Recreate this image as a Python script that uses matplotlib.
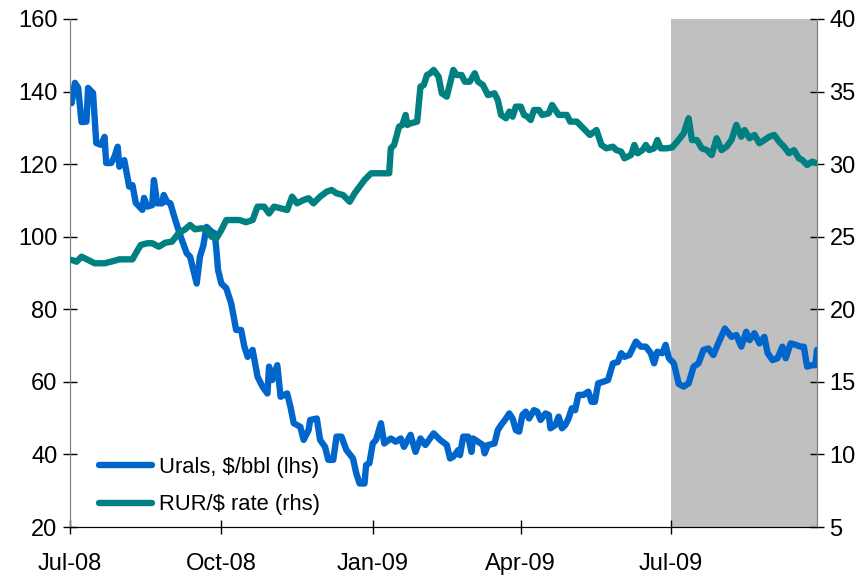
import pandas as pd
import matplotlib
matplotlib.use("Agg")
import matplotlib.pyplot as plt
import matplotlib.dates as mdates

plt.rcParams['font.family'] = ['Liberation Sans', 'DejaVu Sans']

# Urals oil price, $/bbl (left axis)
urals_dates = [
    '2008-07-02', '2008-07-04', '2008-07-06', '2008-07-08', '2008-07-11', '2008-07-12', '2008-07-15',
    '2008-07-17', '2008-07-20', '2008-07-22', '2008-07-23', '2008-07-26', '2008-07-28', '2008-07-30',
    '2008-07-31', '2008-08-03', '2008-08-06', '2008-08-08', '2008-08-10', '2008-08-14', '2008-08-15',
    '2008-08-17', '2008-08-20', '2008-08-21', '2008-08-23', '2008-08-26', '2008-08-27', '2008-08-29',
    '2008-08-31', '2008-09-03', '2008-09-05', '2008-09-07', '2008-09-10', '2008-09-12', '2008-09-14',
    '2008-09-16', '2008-09-18', '2008-09-20', '2008-09-22', '2008-09-25', '2008-09-27', '2008-09-28',
    '2008-09-29', '2008-10-01', '2008-10-04', '2008-10-07', '2008-10-10', '2008-10-13', '2008-10-15',
    '2008-10-17', '2008-10-20', '2008-10-23', '2008-10-26', '2008-10-29', '2008-10-30', '2008-11-01',
    '2008-11-04', '2008-11-06', '2008-11-10', '2008-11-12', '2008-11-14', '2008-11-18', '2008-11-20',
    '2008-11-23', '2008-11-24', '2008-11-28', '2008-11-30', '2008-12-03', '2008-12-05', '2008-12-08',
    '2008-12-10', '2008-12-13', '2008-12-16', '2008-12-20', '2008-12-22', '2008-12-24', '2008-12-27',
    '2008-12-28', '2008-12-30', '2009-01-01', '2009-01-03', '2009-01-06', '2009-01-08', '2009-01-12',
    '2009-01-15', '2009-01-18', '2009-01-20', '2009-01-24', '2009-01-27', '2009-01-30', '2009-02-02',
    '2009-02-07', '2009-02-11', '2009-02-15', '2009-02-17', '2009-02-19', '2009-02-22', '2009-02-23',
    '2009-02-25', '2009-02-28', '2009-03-02', '2009-03-03', '2009-03-06', '2009-03-09', '2009-03-10',
    '2009-03-12', '2009-03-16', '2009-03-18', '2009-03-20', '2009-03-23', '2009-03-25', '2009-03-27',
    '2009-03-29', '2009-03-31', '2009-04-02', '2009-04-04', '2009-04-06', '2009-04-09', '2009-04-11',
    '2009-04-13', '2009-04-16', '2009-04-18', '2009-04-19', '2009-04-22', '2009-04-24', '2009-04-26',
    '2009-04-28', '2009-04-30', '2009-05-02', '2009-05-04', '2009-05-06', '2009-05-09', '2009-05-12',
    '2009-05-14', '2009-05-16', '2009-05-18', '2009-05-21', '2009-05-24', '2009-05-27', '2009-05-30',
    '2009-06-01', '2009-06-03', '2009-06-06', '2009-06-10', '2009-06-13', '2009-06-16', '2009-06-19',
    '2009-06-21', '2009-06-23', '2009-06-26', '2009-06-28', '2009-06-30', '2009-07-03', '2009-07-06',
    '2009-07-09', '2009-07-12', '2009-07-15', '2009-07-18', '2009-07-21', '2009-07-24', '2009-07-27',
    '2009-07-30', '2009-08-03', '2009-08-07', '2009-08-10', '2009-08-13', '2009-08-16', '2009-08-18',
    '2009-08-21', '2009-08-24', '2009-08-27', '2009-08-29', '2009-09-01', '2009-09-04', '2009-09-07',
    '2009-09-09', '2009-09-12', '2009-09-15', '2009-09-18', '2009-09-20', '2009-09-22', '2009-09-25',
    '2009-09-27', '2009-09-28',
]
urals_price = [
    136.8, 142.4, 141.0, 131.6, 131.7, 141.0, 139.6,
    125.8, 125.3, 127.5, 120.3, 120.3, 122.0, 124.8,
    119.3, 121.1, 113.8, 114.2, 109.3, 107.4, 110.7,
    108.3, 108.7, 115.6, 109.2, 109.2, 111.5, 109.6,
    109.2, 104.6, 101.8, 99.1, 95.4, 94.5, 90.8,
    87.1, 94.5, 97.5, 102.7, 101.4, 100.9, 96.3,
    90.8, 87.1, 85.8, 81.6, 74.3, 74.3, 69.7,
    66.9, 68.8, 61.4, 58.7, 56.8, 64.2, 60.5,
    64.6, 55.9, 56.8, 53.1, 48.6, 47.6, 44.0,
    46.7, 49.5, 49.9, 44.0, 42.1, 38.5, 38.5,
    44.9, 44.9, 41.2, 38.9, 34.8, 32.0, 32.0,
    37.1, 37.6, 43.0, 44.0, 48.6, 43.0, 44.4,
    43.5, 44.4, 42.1, 45.4, 40.7, 44.4, 42.6,
    45.8, 44.0, 42.6, 38.9, 39.4, 41.2, 39.8,
    44.9, 44.9, 40.7, 44.4, 43.5, 42.6, 40.3,
    42.6, 43.0, 46.7, 48.1, 49.9, 51.3, 49.9,
    46.7, 46.3, 50.9, 51.8, 49.9, 52.2, 51.8,
    49.5, 51.3, 50.9, 47.2, 48.1, 50.4, 47.2,
    48.1, 49.9, 52.7, 52.2, 56.4, 56.4, 57.3,
    54.5, 54.5, 59.6, 60.0, 60.5, 65.1, 65.5,
    67.9, 66.9, 67.4, 71.1, 69.7, 69.7, 67.9,
    65.1, 68.3, 67.9, 70.2, 66.5, 65.1, 59.4,
    58.7, 59.6, 64.2, 65.1, 68.8, 69.2, 67.4,
    70.6, 74.7, 72.4, 72.9, 69.7, 73.8, 71.5,
    73.4, 70.6, 72.4, 67.9, 66.0, 66.5, 69.7,
    66.5, 70.6, 70.2, 69.7, 69.7, 64.2, 64.6,
    64.6, 68.8,
]

# RUR per USD (right axis)
rur_dates = [
    '2008-07-02', '2008-07-05', '2008-07-08', '2008-07-12', '2008-07-16', '2008-07-22', '2008-07-26',
    '2008-07-31', '2008-08-08', '2008-08-10', '2008-08-13', '2008-08-17', '2008-08-20', '2008-08-24',
    '2008-08-28', '2008-09-01', '2008-09-05', '2008-09-09', '2008-09-12', '2008-09-15', '2008-09-19',
    '2008-09-22', '2008-09-25', '2008-09-28', '2008-10-01', '2008-10-04', '2008-10-08', '2008-10-12',
    '2008-10-16', '2008-10-20', '2008-10-23', '2008-10-27', '2008-10-30', '2008-11-02', '2008-11-06',
    '2008-11-10', '2008-11-13', '2008-11-16', '2008-11-20', '2008-11-23', '2008-11-26', '2008-11-30',
    '2008-12-04', '2008-12-07', '2008-12-10', '2008-12-14', '2008-12-18', '2008-12-21', '2008-12-24',
    '2008-12-27', '2008-12-31', '2009-01-11', '2009-01-12', '2009-01-14', '2009-01-17', '2009-01-19',
    '2009-01-21', '2009-01-22', '2009-01-24', '2009-01-28', '2009-01-30', '2009-02-01', '2009-02-03',
    '2009-02-05', '2009-02-07', '2009-02-10', '2009-02-12', '2009-02-15', '2009-02-17', '2009-02-19',
    '2009-02-21', '2009-02-24', '2009-02-26', '2009-03-01', '2009-03-04', '2009-03-06', '2009-03-09',
    '2009-03-12', '2009-03-16', '2009-03-18', '2009-03-20', '2009-03-23', '2009-03-25', '2009-03-27',
    '2009-03-29', '2009-04-01', '2009-04-03', '2009-04-05', '2009-04-07', '2009-04-09', '2009-04-12',
    '2009-04-14', '2009-04-18', '2009-04-20', '2009-04-22', '2009-04-24', '2009-04-29', '2009-05-01',
    '2009-05-05', '2009-05-08', '2009-05-11', '2009-05-13', '2009-05-17', '2009-05-20', '2009-05-23',
    '2009-05-27', '2009-05-29', '2009-06-01', '2009-06-03', '2009-06-07', '2009-06-09', '2009-06-11',
    '2009-06-14', '2009-06-16', '2009-06-18', '2009-06-21', '2009-06-23', '2009-06-25', '2009-06-29',
    '2009-07-02', '2009-07-05', '2009-07-09', '2009-07-12', '2009-07-14', '2009-07-17', '2009-07-20',
    '2009-07-23', '2009-07-26', '2009-07-29', '2009-08-01', '2009-08-04', '2009-08-07', '2009-08-10',
    '2009-08-13', '2009-08-15', '2009-08-18', '2009-08-21', '2009-08-24', '2009-08-27', '2009-08-30',
    '2009-09-02', '2009-09-05', '2009-09-08', '2009-09-11', '2009-09-14', '2009-09-17', '2009-09-19',
    '2009-09-22', '2009-09-25', '2009-09-28',
]
rur_rate = [
    23.40, 23.28, 23.62, 23.40, 23.17, 23.17, 23.28,
    23.44, 23.44, 23.86, 24.43, 24.55, 24.55, 24.31,
    24.59, 24.66, 25.24, 25.51, 25.81, 25.51, 25.58,
    25.51, 25.00, 24.89, 25.46, 26.15, 26.15, 26.15,
    26.00, 26.15, 27.07, 27.07, 26.60, 27.07, 26.96,
    26.84, 27.76, 27.30, 27.53, 27.65, 27.30, 27.76,
    28.10, 28.22, 27.99, 27.87, 27.41, 27.99, 28.45,
    28.91, 29.37, 29.37, 31.09, 31.32, 32.58, 32.70,
    33.39, 32.70, 32.81, 32.93, 35.34, 35.45, 36.14,
    36.26, 36.49, 36.03, 34.88, 34.65, 35.57, 36.49,
    36.14, 36.14, 35.68, 35.68, 36.26, 35.68, 35.45,
    34.76, 34.88, 34.42, 33.39, 33.16, 33.62, 33.27,
    33.96, 33.96, 33.39, 33.27, 33.04, 33.73, 33.73,
    33.39, 33.50, 34.08, 33.73, 33.39, 33.39, 32.93,
    32.93, 32.58, 32.24, 32.01, 32.35, 31.32, 31.09,
    31.20, 30.97, 30.86, 30.40, 30.63, 31.32, 30.75,
    30.97, 31.32, 30.97, 31.09, 31.66, 31.09, 31.09,
    31.16, 31.55, 32.12, 33.16, 31.66, 31.66, 31.09,
    30.97, 30.63, 31.78, 30.97, 31.20, 31.66, 32.70,
    31.89, 32.35, 31.78, 32.01, 31.44, 31.66, 31.89,
    32.01, 31.55, 31.20, 30.75, 30.97, 30.40, 30.29,
    29.94, 30.17, 30.06,
]

x_ticks = ['2008-07-01', '2008-10-01', '2009-01-01', '2009-04-01', '2009-07-01']
x_start, x_end = '2008-07-01', '2009-09-28'
shade_start = '2009-07-01'

urals_x = pd.to_datetime(urals_dates)
rur_x = pd.to_datetime(rur_dates)

fig = plt.figure(figsize=(8.66, 5.79), dpi=100)
ax = fig.add_axes([0.0808, 0.0898, 0.8626, 0.8774])
ax2 = ax.twinx()

# shaded period from Jul-09 onwards
ax.axvspan(pd.Timestamp(shade_start), pd.Timestamp(x_end), color='#C0C0C0', lw=0, zorder=0)

l1, = ax.plot(urals_x, urals_price, color='#0066CC', lw=4.6, solid_capstyle='round',
              solid_joinstyle='round', label='Urals, $/bbl (lhs)', zorder=3)
l2, = ax2.plot(rur_x, rur_rate, color='#008080', lw=4.6, solid_capstyle='round',
               solid_joinstyle='round', label='RUR/$ rate (rhs)', zorder=3)

ax.set_xlim(pd.Timestamp(x_start), pd.Timestamp(x_end))
ax.set_ylim(20, 160)
ax.set_yticks(range(20, 161, 20))
ax2.set_ylim(5, 40)
ax2.set_yticks(range(5, 41, 5))

ax.set_xticks(pd.to_datetime(x_ticks))
ax.xaxis.set_major_formatter(mdates.DateFormatter('%b-%y'))

for a in (ax, ax2):
    a.spines['top'].set_visible(False)
    a.spines['left'].set_color('#808080')
    a.spines['right'].set_color('#808080')
    a.spines['bottom'].set_color('black')
    a.patch.set_visible(False)

ax.tick_params(axis='both', direction='inout', length=10, width=1, labelsize=17, colors='black')
ax.tick_params(axis='y', pad=4)
ax.tick_params(axis='x', pad=14)
ax2.tick_params(axis='y', direction='inout', length=10, width=1, labelsize=17, pad=4)

ax.legend(handles=[l1, l2], loc='lower left', bbox_to_anchor=(0.013, -0.016), frameon=False,
          fontsize=15.8, handlelength=2.4, handletextpad=0.3, labelspacing=0.75)

fig.savefig('out.png', dpi=100)
